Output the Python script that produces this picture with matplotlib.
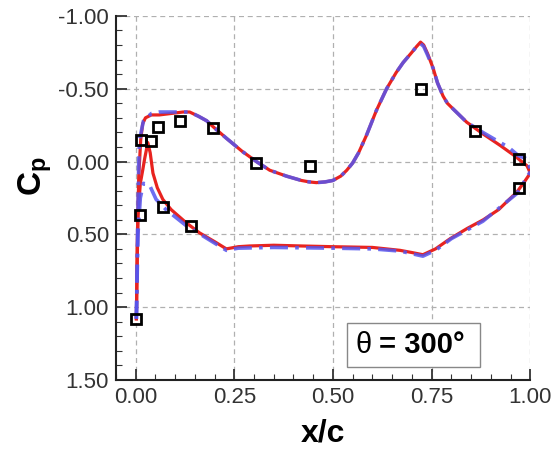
import matplotlib
matplotlib.use("Agg")
import matplotlib.pyplot as plt
from matplotlib.patches import Rectangle
from matplotlib.ticker import MultipleLocator, FormatStrFormatter

# ── data ───────────────────────────────────────────────────────────────────
# CFD line 1 (red, solid)
red_up_x  = [0.002, 0.004, 0.008, 0.013, 0.018, 0.025, 0.04, 0.06, 0.09, 0.12, 0.137,
             0.16, 0.18, 0.196, 0.23, 0.27, 0.306, 0.34, 0.382, 0.42, 0.44, 0.458, 0.48,
             0.50, 0.52, 0.535, 0.55, 0.565, 0.585, 0.61, 0.636, 0.66, 0.678, 0.70,
             0.712, 0.722, 0.73, 0.74, 0.754, 0.765, 0.779, 0.79, 0.805, 0.839, 0.88,
             0.924, 0.96, 0.992, 1.0]
red_up_cp = [1.08, 0.60, 0.10, -0.15, -0.26, -0.30, -0.32, -0.32, -0.33, -0.34, -0.34,
             -0.31, -0.28, -0.24, -0.16, -0.07, 0.00, 0.06, 0.10, 0.13, 0.14, 0.145, 0.14,
             0.13, 0.10, 0.06, 0.01, -0.06, -0.18, -0.35, -0.50, -0.61, -0.68, -0.75,
             -0.79, -0.82, -0.80, -0.74, -0.64, -0.54, -0.45, -0.40, -0.36, -0.27, -0.19,
             -0.11, -0.04, 0.03, 0.08]
red_lo_x  = [0.002, 0.006, 0.012, 0.018, 0.023, 0.031, 0.037, 0.044, 0.055, 0.069,
             0.09, 0.128, 0.162, 0.20, 0.23, 0.26, 0.289, 0.35, 0.42, 0.50, 0.60,
             0.67, 0.70, 0.728, 0.76, 0.797, 0.84, 0.881, 0.92, 0.966, 0.985, 1.0]
red_lo_cp = [1.08, 0.37, 0.15, 0.06, -0.02, -0.13, -0.06, 0.08, 0.18, 0.26,
             0.33, 0.42, 0.49, 0.55, 0.60, 0.585, 0.58, 0.575, 0.58, 0.585, 0.59,
             0.61, 0.625, 0.64, 0.60, 0.53, 0.46, 0.40, 0.33, 0.21, 0.14, 0.08]

# CFD line 2 (blue, dash-dot)
blue_up_x  = [0.002, 0.005, 0.008, 0.010, 0.020, 0.04, 0.06, 0.09, 0.12, 0.137,
              0.16, 0.18, 0.196, 0.23, 0.27, 0.306, 0.34, 0.382, 0.42, 0.44, 0.458, 0.48,
              0.50, 0.52, 0.535, 0.55, 0.565, 0.585, 0.61, 0.636, 0.66, 0.678, 0.70,
              0.712, 0.722, 0.73, 0.74, 0.754, 0.765, 0.779, 0.79, 0.805, 0.839, 0.88,
              0.924, 0.944, 0.97, 0.99, 1.0]
blue_up_cp = [1.08, 0.50, 0.00, -0.15, -0.28, -0.33, -0.34, -0.34, -0.34, -0.34,
              -0.31, -0.28, -0.24, -0.16, -0.07, 0.00, 0.06, 0.10, 0.13, 0.14, 0.145, 0.14,
              0.13, 0.10, 0.06, 0.01, -0.06, -0.18, -0.35, -0.50, -0.61, -0.68, -0.75,
              -0.79, -0.81, -0.79, -0.73, -0.64, -0.54, -0.45, -0.40, -0.36, -0.27, -0.20,
              -0.13, -0.10, -0.04, -0.02, 0.05]
blue_lo_x  = [0.002, 0.006, 0.012, 0.020, 0.035, 0.052, 0.077, 0.128, 0.17, 0.23,
              0.26, 0.35, 0.50, 0.60, 0.67, 0.728, 0.76, 0.80, 0.88, 0.966, 1.0]
blue_lo_cp = [1.08, 0.50, 0.25, 0.15, 0.16, 0.26, 0.33, 0.44, 0.51, 0.61,
              0.595, 0.59, 0.595, 0.60, 0.615, 0.65, 0.61, 0.53, 0.41, 0.22, 0.07]

# experiment (open squares)
exp_x  = [0.002, 0.010, 0.014, 0.040, 0.056, 0.112, 0.196, 0.306, 0.443,
          0.722, 0.860, 0.972, 0.972, 0.069, 0.141]
exp_cp = [1.08, 0.37, -0.15, -0.14, -0.24, -0.28, -0.23, 0.01, 0.03,
          -0.50, -0.21, -0.02, 0.18, 0.315, 0.44]

label_text = "θ"
label_value = "= 300°"

# ── style ──────────────────────────────────────────────────────────────────
plt.rcParams["font.family"] = ["Liberation Sans", "DejaVu Sans"]
plt.rcParams["axes.unicode_minus"] = False
plt.rcParams["mathtext.fontset"] = "custom"
plt.rcParams["mathtext.rm"] = "Liberation Sans"
plt.rcParams["mathtext.bf"] = "Liberation Sans:bold"

fig = plt.figure(figsize=(5.57, 4.55), dpi=100)
ax = fig.add_axes([0.208, 0.165, 0.744, 0.8])

ax.plot(red_up_x, red_up_cp, color="#e8231f", lw=2.3, zorder=3)
ax.plot(red_lo_x, red_lo_cp, color="#e8231f", lw=2.3, zorder=3)
ax.plot(blue_up_x, blue_up_cp, color="#5555ee", lw=2.6, ls=(0, (5, 2, 1, 2)), alpha=0.85, zorder=4)
ax.plot(blue_lo_x, blue_lo_cp, color="#5555ee", lw=2.6, ls=(0, (5, 2, 1, 2)), alpha=0.85, zorder=4)
ax.plot(exp_x, exp_cp, ls="none", marker="s", ms=7.5, mfc="none", mec="black", mew=2, zorder=5)

ax.set_xlim(-0.05, 1.0)
ax.set_ylim(1.5, -1.0)

ax.xaxis.set_major_locator(MultipleLocator(0.25))
ax.xaxis.set_minor_locator(MultipleLocator(0.05))
ax.yaxis.set_major_locator(MultipleLocator(0.5))
ax.yaxis.set_minor_locator(MultipleLocator(0.1))
ax.xaxis.set_major_formatter(FormatStrFormatter("%.2f"))
ax.yaxis.set_major_formatter(FormatStrFormatter("%.2f"))

ax.tick_params(which="both", direction="in", top=False, right=False,
               labelsize=16, labelcolor="#333333", color="#333333")
ax.tick_params(which="major", length=8, width=1.3, pad=5)
ax.tick_params(which="minor", length=4, width=0.8)

for side in ["top", "right"]:
    ax.spines[side].set_visible(False)
for side in ["left", "bottom"]:
    ax.spines[side].set_linewidth(1.5)
    ax.spines[side].set_color("#222222")

ax.grid(True, which="major", ls=(0, (4, 3)), color="#b0b0b0", lw=0.9)

ax.set_xlabel("x/c", fontsize=23, fontweight="bold")
ax.xaxis.set_label_coords(0.5, -0.105)
ax.set_ylabel(r"$\mathbf{C_p}$", fontsize=24)
ax.yaxis.set_label_coords(-0.15, 0.56)

# theta box
ax.add_patch(Rectangle((0.557, 0.035), 0.322, 0.122, transform=ax.transAxes,
                       fill=True, facecolor="white", edgecolor="#888888", lw=1, zorder=6))
ax.text(0.597, 0.096, label_text, transform=ax.transAxes, fontsize=21,
        ha="center", va="center", zorder=7)
ax.text(0.635, 0.096, label_value, transform=ax.transAxes, fontsize=21,
        fontweight="bold", ha="left", va="center", zorder=7)

plt.savefig("out.png", dpi=100)
